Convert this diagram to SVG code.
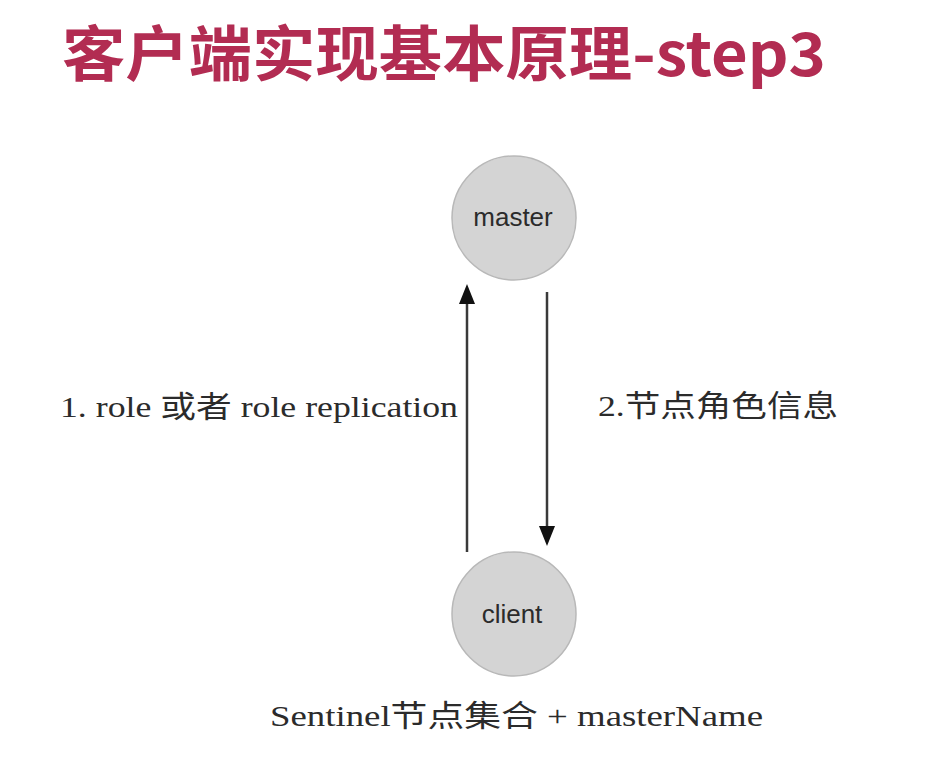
<svg xmlns="http://www.w3.org/2000/svg" width="952" height="778" viewBox="0 0 952 778">
  <defs>
    <style>
      .title { font-family: "Noto Sans CJK SC", "Noto Sans", sans-serif; font-weight: 700; font-size: 60px; fill: #b22c52; }
      .node circle { fill: #d4d4d4; stroke: #b8b8b8; stroke-width: 1.5; }
      .node text { font-family: "Liberation Sans", Arial, sans-serif; font-size: 26px; fill: #2b2b2b; text-anchor: middle; }
      .label { font-family: "Liberation Serif", "Noto Sans CJK SC", serif; font-size: 30px; fill: #2b2b2b; }
      .conn line { stroke: #3a3a3a; stroke-width: 2.5; }
    </style>
    <marker id="arrow" viewBox="0 0 10 10" refX="10" refY="5" markerWidth="16" markerHeight="16" markerUnits="userSpaceOnUse" orient="auto">
      <path d="M0,0 L10,5 L0,10 z" fill="#111"/>
    </marker>
  </defs>
  <rect width="952" height="778" fill="#ffffff"/>
  <text class="title" x="62" y="76" textLength="764" lengthAdjust="spacingAndGlyphs">客户端实现基本原理-step3</text>

  <g id="connectors" class="conn">
    <line x1="467" y1="552" x2="467" y2="300"/>
    <path d="M467,284 L459,304 L475,304 z" fill="#111"/>
    <line x1="547" y1="292" x2="547" y2="530"/>
    <path d="M547,546 L539,526 L555,526 z" fill="#111"/>
  </g>

  <g id="master" class="node">
    <circle cx="514" cy="218" r="62"/>
    <text x="513" y="226">master</text>
  </g>
  <g id="client" class="node">
    <circle cx="514" cy="614" r="62"/>
    <text x="512" y="623">client</text>
  </g>

  <g id="labels">
    <text class="label" x="60" y="417" textLength="398" lengthAdjust="spacingAndGlyphs">1. role 或者 role replication</text>
    <text class="label" x="598" y="416" textLength="240" lengthAdjust="spacingAndGlyphs">2.节点角色信息</text>
    <text class="label" x="270" y="726" textLength="493" lengthAdjust="spacingAndGlyphs">Sentinel节点集合 + masterName</text>
  </g>
</svg>
